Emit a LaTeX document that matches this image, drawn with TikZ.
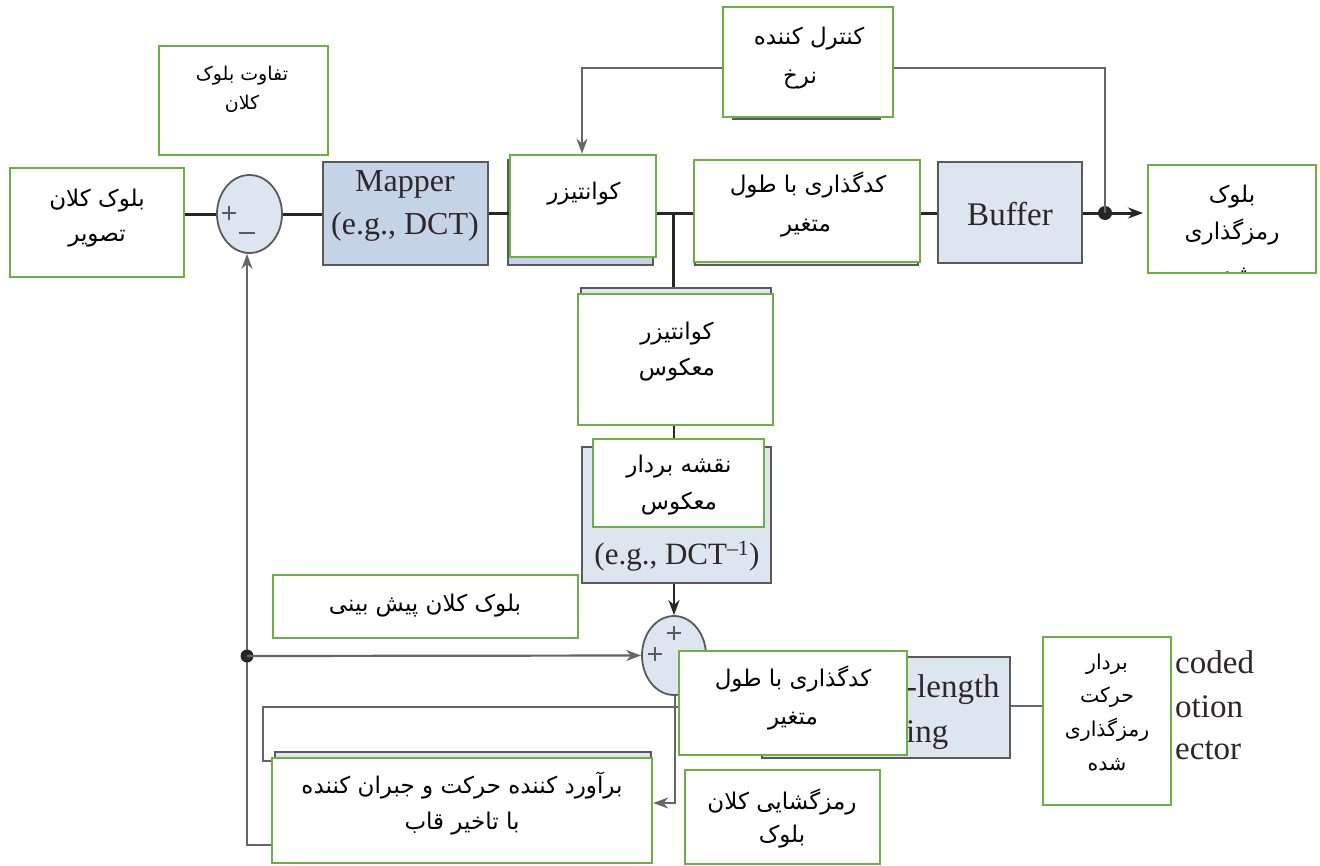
\documentclass[tikz,border=0pt]{standalone}
\usepackage{fontspec}
\usetikzlibrary{arrows.meta,shapes.geometric}
\TeXXeTstate=1
\setmainfont{Liberation Serif}
\newfontfamily\arabicfont[Script=Arabic]{DejaVu Sans}
\newcommand{\fa}[1]{{\arabicfont\beginR #1\endR}}
\definecolor{grn}{HTML}{70AD47}
\definecolor{dk}{HTML}{262626}
\definecolor{gl}{HTML}{666666}
\definecolor{gb}{HTML}{5A5A5A}
\definecolor{fillA}{HTML}{C5D3E6}
\definecolor{fillB}{HTML}{DDE5F0}
\definecolor{txtE}{HTML}{2E2628}
\tikzset{
  origbox/.style={draw=gb, line width=2pt, inner sep=0},
  greenbox/.style={draw=grn, line width=2.5pt, fill=white, inner sep=0},
  sumnode/.style={ellipse, draw=gb, line width=1.8pt, fill=fillB, inner sep=0},
  mainline/.style={draw=dk, line width=3pt},
  thinline/.style={draw=gl, line width=2.2pt},
  arr/.style={-{Stealth[length=15pt,width=11pt]}},
  fatext/.style={inner sep=0, text height=16pt, text depth=3pt, font=\fontsize{23}{26}\selectfont},
  famid/.style={inner sep=0, text height=14pt, text depth=3pt, font=\fontsize{20.5}{24}\selectfont},
  fasmall/.style={inner sep=0, text height=13pt, text depth=2pt, font=\fontsize{19}{22}\selectfont},
  entext/.style={inner sep=0, text=txtE, font=\fontsize{33}{36}\selectfont},
  plussign/.style={draw=gb, line width=1.5pt}
}
\begin{document}
\begin{tikzpicture}[x=1pt,y=-1pt]
\useasboundingbox (0,0) rectangle (1320,865);
\fill[white] (0,0) rectangle (1320,865);

% original (gray) boxes
\node[origbox, fill=fillA, minimum width=165, minimum height=103] (map) at (405.5,213.5) {};
\node[origbox, fill=fillA, minimum width=145, minimum height=105] (qg) at (580.5,212.5) {};
\node[origbox, fill=fillB, minimum width=223, minimum height=103] (vg) at (806.5,213.5) {};
\node[origbox, fill=fillB, minimum width=144, minimum height=101] (buf) at (1010,212.5) {};
\node[origbox, fill=fillB, minimum width=147, minimum height=109] (rg) at (806.5,64.5) {};
\node[origbox, fill=fillB, minimum width=190, minimum height=132] (iqg) at (676,354) {};
\node[origbox, fill=fillB, minimum width=189, minimum height=136] (img) at (676.5,515) {};
\node[origbox, fill=fillB, minimum width=248, minimum height=101] (vlg) at (886,707.5) {};
\node[origbox, fill=fillB, minimum width=376, minimum height=106] (meg) at (463,805) {};

% summing junctions
\node[sumnode, minimum width=65, minimum height=78] (sub) at (249.5,214) {};
\node[sumnode, minimum width=64, minimum height=79] (add) at (674,655.5) {};
\draw[plussign] (222,213) -- (236,213) (229,206) -- (229,220);
\draw[plussign] (239,233) -- (255,233);
\draw[plussign] (648,654) -- (662,654) (655,647) -- (655,661);
\draw[plussign] (667,633) -- (681,633) (674,626) -- (674,640);

% english texts of the original figure
\node[entext, font=\fontsize{32}{35}\selectfont] (tmap1) at (405,184) {Mapper};
\node[entext, font=\fontsize{32}{35}\selectfont] (tmap2) at (405,227) {(e.g., DCT)};
\node[entext] (tbuf) at (1010,214) {Buffer};
\node[entext, font=\fontsize{31}{34}\selectfont] (timap) at (677,556) {(e.g., DCT\textsuperscript{\textendash1})};
\node[entext, anchor=west] (tlen) at (906,690) {-length};
\node[entext, anchor=west] (ting) at (906,735) {ing};
\node[entext, anchor=west] (tcod) at (1175,662) {coded};
\node[entext, anchor=west] (tmot) at (1175,707) {otion};
\node[entext, anchor=west] (tvec) at (1175,750) {ector};

% green boxes
\node[greenbox, minimum width=174, minimum height=109] (src) at (97,222.5) {};
\node[greenbox, minimum width=169, minimum height=109] (diff) at (243.5,100.5) {};
\node[greenbox, minimum width=146, minimum height=102] (qz) at (583,206) {};
\node[greenbox, minimum width=226, minimum height=102] (vlc) at (807,211) {};
\node[greenbox, minimum width=170, minimum height=110] (rc) at (808,62) {};
\node[greenbox, minimum width=168, minimum height=108] (out) at (1232,219) {};
\node[greenbox, minimum width=195, minimum height=131] (iq) at (675.5,359.5) {};
\node[greenbox, minimum width=171, minimum height=88] (im) at (678.5,483) {};
\node[greenbox, minimum width=305, minimum height=63] (pred) at (425.5,606.5) {};
\node[greenbox, minimum width=228, minimum height=104] (vlc2) at (793,703) {};
\node[greenbox, minimum width=128, minimum height=168] (mv) at (1107,721) {};
\node[greenbox, minimum width=380, minimum height=105] (me) at (462,810.5) {};
\node[greenbox, minimum width=195, minimum height=94] (dec) at (782.5,817) {};

% helper coordinates
\coordinate (ytop) at (0,213);
\coordinate (br) at (673,213);
\coordinate (dot1) at (1105,213);
\coordinate (outtip) at (1143,213);
\coordinate (yrc) at (0,68);
\coordinate (qin) at (582,68);
\coordinate (ldot) at (247,656);
\coordinate (lbot) at (247,845);
\coordinate (mvline) at (675,803);
\coordinate (ly) at (0,707);
\coordinate (lc) at (263,707);
\coordinate (lc2) at (263,761);
\coordinate (x674) at (674,0);
\coordinate (y706) at (0,706);

% main forward path
\draw[mainline] (sub.west -| src.east) -- (sub.west);
\draw[mainline] (sub.east) -- (map.west |- sub.east);
\draw[mainline] (map.east |- ytop) -- (qz.west |- ytop);
\draw[mainline] (qz.east |- ytop) -- (vlc.west |- ytop);
\draw[mainline] (br) -- (br |- iqg.north);
\draw[mainline] (vlc.east |- ytop) -- (buf.west |- ytop);
\draw[mainline, arr] (buf.east |- ytop) -- (outtip);
\fill[dk] (dot1) circle (7);

% rate control loop
\draw[thinline] (rc.east |- yrc) -- (dot1 |- yrc) -- (dot1);
\draw[thinline, arr] (rc.west |- yrc) -- (qin) -- (qin |- qz.north);

% inverse path
\draw[mainline, line width=2.5pt] (iq.south -| x674) -- (im.north -| x674);
\draw[mainline, line width=2.5pt, arr] (img.south -| add.north) -- (add.north);

% feedback
\draw[thinline, arr] (me.west |- lbot) -- (lbot) -- (sub.south -| lbot);
\fill[dk] (ldot) circle (6.5);
\draw[thinline, arr] (ldot) -- (add.west);
\draw[thinline, arr] (add.south -| mvline) -- (mvline) -- (me.east |- mvline);
\draw[thinline] (vlc2.west |- ly) -- (lc) -- (lc2) -- (me.west |- lc2);
\draw[thinline] (vlg.east |- y706) -- (mv.west |- y706);

% persian texts
\node[fatext] (t1a) at (97,200) {\fa{بلوک کلان}};
\node[fatext] (t1b) at (97,235) {\fa{تصویر}};
\node[fasmall] (t2a) at (242,75) {\fa{تفاوت بلوک}};
\node[fasmall] (t2b) at (242,104) {\fa{کلان}};
\node[fatext] (t3) at (584,193) {\fa{کوانتیزر}};
\node[fatext] (t4a) at (808,186) {\fa{کدگذاری با طول}};
\node[fatext] (t4b) at (806,225) {\fa{متغیر}};
\node[fatext] (t5a) at (809,38) {\fa{کنترل کننده}};
\node[fatext] (t5b) at (800,77) {\fa{نرخ}};
\node[fatext] (t6a) at (1232,196) {\fa{بلوک}};
\node[fatext] (t6b) at (1232,233) {\fa{رمزگذاری}};
\begin{scope}
\clip (1150,167) rectangle (1314,271);
\node[fatext] (t6c) at (1232,275) {\fa{شده}};
\end{scope}
\node[fatext] (t7a) at (677,333) {\fa{کوانتیزر}};
\node[fatext] (t7b) at (677,369) {\fa{معکوس}};
\node[fatext] (t8a) at (679,466) {\fa{نقشه بردار}};
\node[fatext] (t8b) at (679,503) {\fa{معکوس}};
\node[fatext] (t9) at (425,605) {\fa{بلوک کلان پیش بینی}};
\node[fatext] (t10a) at (793,680) {\fa{کدگذاری با طول}};
\node[fatext] (t10b) at (793,718) {\fa{متغیر}};
\node[famid] (t11a) at (1107,664) {\fa{بردار}};
\node[famid] (t11b) at (1107,697) {\fa{حرکت}};
\node[famid] (t11c) at (1107,731) {\fa{رمزگذاری}};
\node[famid] (t11d) at (1107,765) {\fa{شده}};
\node[fatext] (t12a) at (462,787) {\fa{برآورد کننده حرکت و جبران کننده}};
\node[fatext] (t12b) at (462,823) {\fa{با تاخیر قاب}};
\node[fatext] (t13a) at (782,803) {\fa{رمزگشایی کلان}};
\node[fatext] (t13b) at (782,836) {\fa{بلوک}};
\end{tikzpicture}
\end{document}
